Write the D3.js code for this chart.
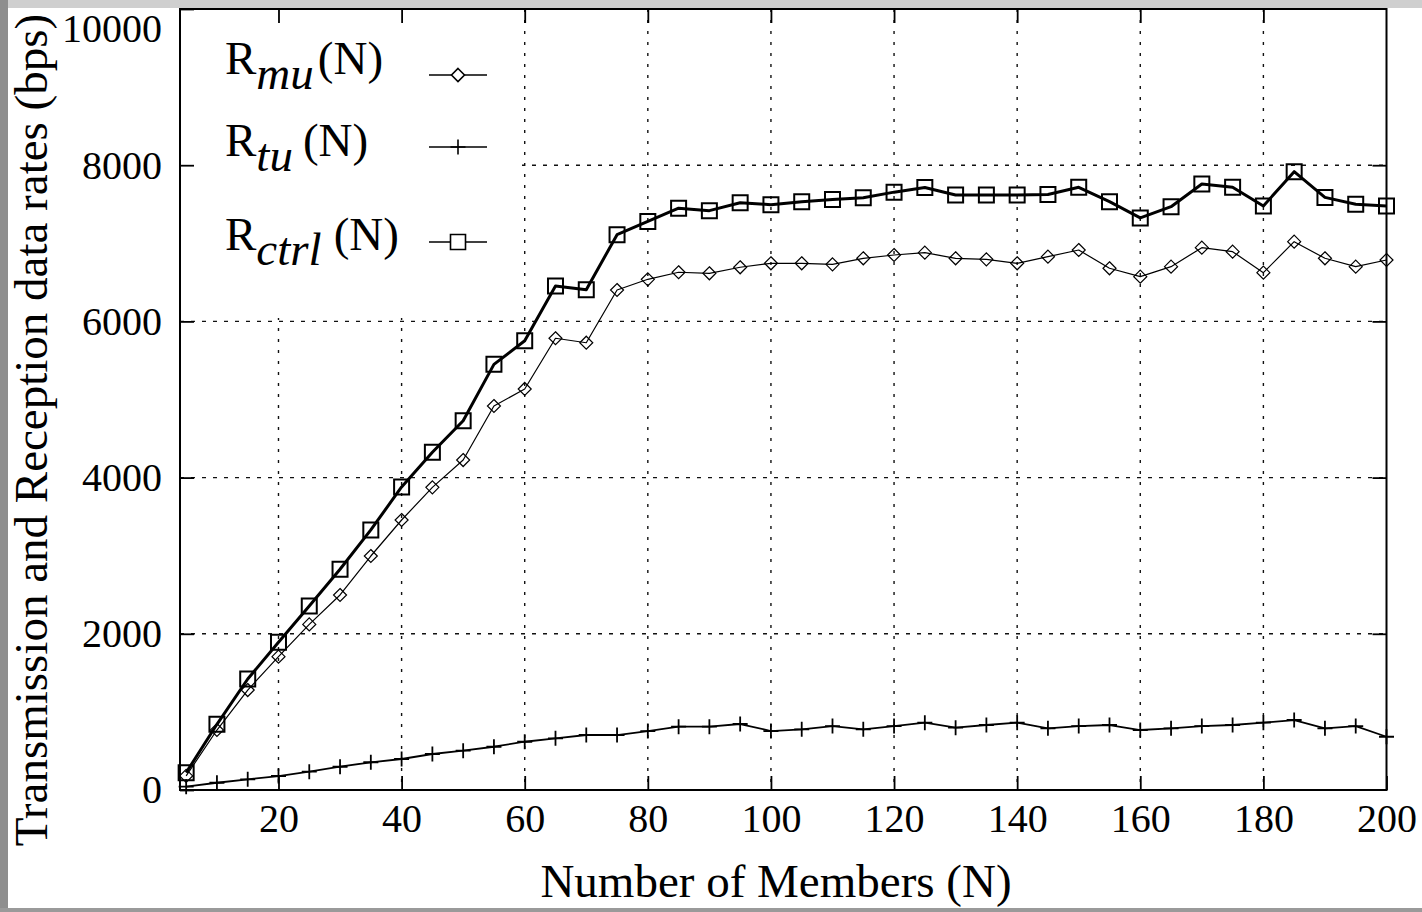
<!DOCTYPE html>
<html>
<head>
<meta charset="utf-8">
<title>Transmission and Reception data rates</title>
<script src="https://cdn.jsdelivr.net/npm/d3@7/dist/d3.min.js"></script>
<style>
    html, body { margin: 0; padding: 0; background: #fff; }
    svg { display: block; }
</style>
</head>
<body>
<div class="rates chart"></div>
<script>

// ***************************************************************************************************************
// Data (bps against number of members N)

const members = [5, 10, 15, 20, 25, 30, 35, 40, 45, 50, 55, 60, 65, 70, 75, 80, 85, 90, 95, 100,
    105, 110, 115, 120, 125, 130, 135, 140, 145, 150, 155, 160, 165, 170, 175, 180, 185, 190, 195, 200];

const rateMu = [180, 768, 1280, 1707, 2120, 2497, 2996, 3457, 3875, 4225, 4917, 5135, 5784, 5727, 6402, 6539, 6629, 6616, 6693, 6744,
    6744, 6731, 6808, 6850, 6880, 6808, 6795, 6744, 6829, 6914, 6680, 6573, 6701, 6944, 6893, 6624, 7021, 6808, 6701, 6786];

const rateTu = [42, 93, 137, 179, 234, 298, 355, 397, 461, 503, 554, 618, 662, 704, 704, 755, 811, 811, 845, 755,
    777, 819, 777, 819, 862, 798, 832, 862, 790, 819, 832, 768, 790, 819, 832, 862, 896, 790, 819, 682];

const rateCtrl = [222, 841, 1421, 1891, 2356, 2826, 3330, 3880, 4324, 4728, 5450, 5752, 6453, 6405, 7110, 7280, 7450, 7418, 7520, 7495,
    7533, 7560, 7584, 7655, 7715, 7618, 7618, 7618, 7625, 7717, 7533, 7325, 7469, 7760, 7717, 7478, 7917, 7588, 7499, 7478];

const xTicks = [20, 40, 60, 80, 100, 120, 140, 160, 180, 200];
const yTicks = [0, 2000, 4000, 6000, 8000, 10000];

const legendSubs = ["mu", "tu", "ctrl"];
const xTitle = "Number of Members (N)";
const yTitle = "Transmission and Reception data rates (bps)";

// ***************************************************************************************************************
// Graph properties

let width = 1422;
let height = 912;

let plotLeft = 180;
let plotRight = 1386.5;
let plotTop = 9;
let plotBottom = 790;

let serif = "'Liberation Serif', 'DejaVu Serif', serif";

let xScale = d3.scaleLinear()
    .domain([4, 200])
    .range([plotLeft, plotRight])
;

let yScale = d3.scaleLinear()
    .domain([0, 10000])
    .range([plotBottom, plotTop]) // reversed, big numbers on top
;

let svg = d3.select(".rates")
    .append("svg")
        .attr("width", width)
        .attr("height", height)
;

// grey slide border that shows on the left / top / bottom of the picture
svg.append("rect").attr("x", 0).attr("y", 0).attr("width", width).attr("height", 8).attr("fill", "#cfcfcf");
svg.append("rect").attr("x", 0).attr("y", 0).attr("width", 8).attr("height", height).attr("fill", "#8e8e8e");
svg.append("rect").attr("x", 0).attr("y", 908).attr("width", width).attr("height", 4).attr("fill", "#9a9a9a");

// ***************************************************************************************************************
// Dotted grid

let grid = svg.append("g");

grid.selectAll("line.vgrid")
    .data(xTicks.filter(d => d < 200))
    .enter()
        .append("line")
            .attr("class", "vgrid")
            .attr("x1", d => xScale(d))
            .attr("x2", d => xScale(d))
            .attr("y1", plotTop)
            .attr("y2", plotBottom)
            .attr("stroke", "#111")
            .attr("stroke-width", 1.4)
            .attr("stroke-dasharray", "3,8")
;

grid.selectAll("line.hgrid")
    .data(yTicks.filter(d => d > 0 && d < 10000))
    .enter()
        .append("line")
            .attr("class", "hgrid")
            .attr("x1", plotLeft)
            .attr("x2", plotRight)
            .attr("y1", d => yScale(d))
            .attr("y2", d => yScale(d))
            .attr("stroke", "#111")
            .attr("stroke-width", 1.4)
            .attr("stroke-dasharray", "4,7")
;

// the key has an opaque white box which hides the grid behind it
svg.append("rect")
    .attr("x", plotLeft)
    .attr("y", plotTop)
    .attr("width", 342)
    .attr("height", 309)
    .attr("fill", "#fff")
;

// ***************************************************************************************************************
// Axes: ticks point inwards on all four sides

function styleAxis(g) {
    g.select(".domain").remove();
    g.selectAll(".tick line").attr("stroke", "#000").attr("stroke-width", 1.8);
    g.selectAll(".tick text")
        .attr("font-family", serif)
        .attr("font-size", 40)
        .attr("fill", "#000");
}

svg.append("g")
    .attr("transform", "translate(0," + plotBottom + ")")
    .call(d3.axisBottom(xScale).tickValues(xTicks).tickSizeInner(-14).tickSizeOuter(0).tickPadding(14))
    .call(styleAxis)
;

svg.append("g")
    .attr("transform", "translate(" + plotLeft + ",0)")
    .call(d3.axisLeft(yScale).tickValues(yTicks).tickSizeInner(-14).tickSizeOuter(0).tickPadding(18).tickFormat(d3.format("d")))
    .call(styleAxis)
    .call(g => g.selectAll(".tick").filter(d => d === 10000).select("text").attr("dy", "0.8em"))
;

svg.append("g")
    .attr("transform", "translate(0," + plotTop + ")")
    .call(d3.axisTop(xScale).tickValues(xTicks.filter(d => d < 200)).tickSizeInner(-14).tickSizeOuter(0).tickFormat(""))
    .call(styleAxis)
;

svg.append("g")
    .attr("transform", "translate(" + plotRight + ",0)")
    .call(d3.axisRight(yScale).tickValues(yTicks.filter(d => d > 0 && d < 10000)).tickSizeInner(-14).tickSizeOuter(0).tickFormat(""))
    .call(styleAxis)
;

svg.append("rect")
    .attr("x", plotLeft)
    .attr("y", plotTop)
    .attr("width", plotRight - plotLeft)
    .attr("height", plotBottom - plotTop)
    .attr("fill", "none")
    .attr("stroke", "#000")
    .attr("stroke-width", 2)
;

// ***************************************************************************************************************
// Series

function markerPath(kind, r) {
    if (kind === "square") return "M" + (-r) + "," + (-r) + "H" + r + "V" + r + "H" + (-r) + "Z";
    if (kind === "diamond") return "M0," + (-r) + "L" + r + ",0L0," + r + "L" + (-r) + ",0Z";
    return "M" + (-r) + ",0H" + r + "M0," + (-r) + "V" + r; // plus
}

let seriesList = [
    { values: rateMu,   marker: "diamond", r: 6.5, lineWidth: 1.2, markerWidth: 1.2 },
    { values: rateTu,   marker: "plus",    r: 7.5, lineWidth: 1.8, markerWidth: 1.8 },
    { values: rateCtrl, marker: "square",  r: 7.5, lineWidth: 3,   markerWidth: 2 }
];

let line = d3.line()
    .x(d => xScale(d.x))
    .y(d => yScale(d.y))
;

seriesList.forEach(function (s) {
    let pts = members.map((m, i) => ({ x: m, y: s.values[i] }));
    let g = svg.append("g");

    g.append("path")
        .datum(pts)
        .attr("d", line)
        .attr("fill", "none")
        .attr("stroke", "#000")
        .attr("stroke-width", s.lineWidth)
        .attr("stroke-linejoin", "round")
    ;

    g.selectAll("path.marker")
        .data(pts)
        .enter()
            .append("path")
                .attr("class", "marker")
                .attr("transform", d => "translate(" + xScale(d.x) + "," + yScale(d.y) + ")")
                .attr("d", markerPath(s.marker, s.r))
                .attr("fill", "none")
                .attr("stroke", "#000")
                .attr("stroke-width", s.markerWidth)
    ;
});

// ***************************************************************************************************************
// Key

let keyRows = [
    { baseline: 74,  sampleY: 75,  gap: 4 },
    { baseline: 156, sampleY: 147, gap: 10 },
    { baseline: 250, sampleY: 242, gap: 12 }
];

let key = svg.append("g");

keyRows.forEach(function (row, i) {
    let s = seriesList[i];

    let t = key.append("text")
        .attr("x", 225)
        .attr("y", row.baseline)
        .attr("font-family", serif)
        .attr("font-size", 47)
        .attr("fill", "#000")
    ;
    t.append("tspan").text("R");
    t.append("tspan").attr("font-style", "italic").attr("dy", 15).text(legendSubs[i]);
    t.append("tspan").attr("dy", -15).attr("dx", row.gap).text("(N)");

    key.append("line")
        .attr("x1", 429)
        .attr("x2", 487)
        .attr("y1", row.sampleY)
        .attr("y2", row.sampleY)
        .attr("stroke", "#000")
        .attr("stroke-width", 1.6)
    ;

    key.append("path")
        .attr("transform", "translate(458," + row.sampleY + ")")
        .attr("d", markerPath(s.marker, s.r))
        .attr("fill", s.marker === "plus" ? "none" : "#fff")
        .attr("stroke", "#000")
        .attr("stroke-width", 1.6)
    ;
});

// ***************************************************************************************************************
// Axis titles

svg.append("text")
    .attr("x", 776)
    .attr("y", 897)
    .attr("text-anchor", "middle")
    .attr("font-family", serif)
    .attr("font-size", 47)
    .attr("fill", "#000")
    .text(xTitle)
;

svg.append("text")
    .attr("transform", "translate(47,430) rotate(-90)")
    .attr("text-anchor", "middle")
    .attr("font-family", serif)
    .attr("font-size", 47)
    .attr("fill", "#000")
    .text(yTitle)
;

</script>
</body>
</html>
